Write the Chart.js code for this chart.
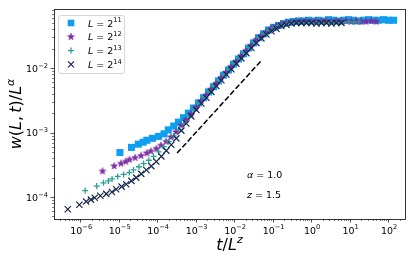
<!DOCTYPE html>
<html>
<head>
<meta charset="utf-8">
<script src="https://cdn.jsdelivr.net/npm/chart.js@4.4.0/dist/chart.umd.min.js"></script>
<style>
  html, body { margin: 0; padding: 0; background: #fff; }
  canvas { display: block; }
</style>
</head>
<body>
<canvas id="chart" width="415" height="262"></canvas>
<script>
// time steps sampled in every run (shared by all system sizes)
const times = [1, 2, 3, 4, 5, 7, 10, 14, 18, 25, 33, 45, 60, 81, 110, 148, 200, 269, 363, 490,
  661, 891, 1202, 1622, 2188, 2951, 3981, 5370, 7244, 9772, 13183, 17783, 23988, 32359, 43652,
  58884, 79433, 107152, 144544, 194984, 263027, 354813, 478630, 645654, 870964, 1174898,
  1584893, 2137962, 2884032, 3890451, 5248075, 7079458, 9549926, 12882496]

const sizeExps = [11, 12, 13, 14]
const zExp = 1.5

// w(L,t)/L^alpha, one list per system size
const w11 = [4.90e-4, 5.89e-4, 6.61e-4, 7.08e-4, 7.59e-4, 8.13e-4, 8.71e-4, 9.55e-4, 1.10e-3, 1.26e-3,
  1.45e-3, 1.70e-3, 2.00e-3, 2.40e-3, 2.88e-3, 3.47e-3, 4.27e-3, 5.13e-3, 6.31e-3, 7.76e-3,
  9.33e-3, 1.15e-2, 1.38e-2, 1.66e-2, 2.04e-2, 2.45e-2, 2.95e-2, 3.39e-2, 3.89e-2, 4.27e-2,
  4.57e-2, 4.90e-2, 5.13e-2, 5.25e-2, 5.37e-2, 5.37e-2, 5.50e-2, 5.37e-2, 5.50e-2, 5.37e-2,
  5.62e-2, 5.50e-2, 5.37e-2, 5.50e-2, 5.62e-2, 5.50e-2, 5.37e-2, 5.50e-2, 5.62e-2, 5.50e-2,
  5.50e-2, 5.62e-2, 5.50e-2, 5.50e-2]
const w12 = [2.51e-4, 3.02e-4, 3.31e-4, 3.55e-4, 3.80e-4, 4.07e-4, 4.37e-4, 4.79e-4, 5.13e-4, 5.62e-4,
  6.31e-4, 7.24e-4, 8.51e-4, 1.02e-3, 1.29e-3, 1.58e-3, 1.95e-3, 2.45e-3, 3.09e-3, 3.80e-3,
  4.68e-3, 5.75e-3, 7.08e-3, 8.51e-3, 1.05e-2, 1.26e-2, 1.55e-2, 1.86e-2, 2.24e-2, 2.75e-2,
  3.16e-2, 3.63e-2, 4.07e-2, 4.47e-2, 4.79e-2, 5.01e-2, 5.13e-2, 5.25e-2, 5.25e-2, 5.37e-2,
  5.25e-2, 5.37e-2, 5.25e-2, 5.37e-2, 5.25e-2, 5.37e-2, 5.25e-2, 5.37e-2, 5.25e-2, 5.37e-2,
  5.25e-2, 5.25e-2, 5.37e-2, 5.25e-2]
const w13 = [1.26e-4, 1.48e-4, 1.66e-4, 1.78e-4, 1.91e-4, 2.09e-4, 2.24e-4, 2.40e-4, 2.63e-4, 2.95e-4,
  3.31e-4, 3.72e-4, 4.27e-4, 5.01e-4, 6.03e-4, 7.24e-4, 8.91e-4, 1.12e-3, 1.38e-3, 1.74e-3,
  2.24e-3, 2.82e-3, 3.55e-3, 4.37e-3, 5.25e-3, 6.46e-3, 7.94e-3, 9.55e-3, 1.17e-2, 1.41e-2,
  1.70e-2, 2.09e-2, 2.51e-2, 2.95e-2, 3.39e-2, 3.80e-2, 4.17e-2, 4.57e-2, 4.79e-2, 5.01e-2,
  5.13e-2, 5.13e-2, 5.25e-2, 5.13e-2, 5.25e-2, 5.13e-2, 5.25e-2, 5.13e-2, 5.25e-2, 5.13e-2,
  5.13e-2, 5.25e-2, 5.13e-2, 5.25e-2]
const w14 = [6.46e-5, 7.59e-5, 8.51e-5, 9.12e-5, 9.77e-5, 1.05e-4, 1.12e-4, 1.20e-4, 1.32e-4, 1.45e-4,
  1.58e-4, 1.78e-4, 2.00e-4, 2.29e-4, 2.63e-4, 3.02e-4, 3.55e-4, 4.27e-4, 5.25e-4, 6.46e-4,
  8.13e-4, 1.07e-3, 1.38e-3, 1.78e-3, 2.24e-3, 2.82e-3, 3.47e-3, 4.27e-3, 5.25e-3, 6.46e-3,
  7.94e-3, 9.55e-3, 1.17e-2, 1.41e-2, 1.70e-2, 2.04e-2, 2.45e-2, 2.88e-2, 3.31e-2, 3.72e-2,
  4.07e-2, 4.47e-2, 4.68e-2, 4.90e-2, 5.01e-2, 5.01e-2, 5.01e-2, 5.01e-2, 4.90e-2, 5.01e-2,
  5.01e-2, 4.90e-2, 5.01e-2, 5.01e-2]

// guide line of slope alpha/z
const guideX = [3.3e-4, 5.0e-2]
const guideY = [4.8e-4, 1.29e-2]

const xMajors = [1e-6, 1e-5, 1e-4, 1e-3, 1e-2, 1e-1, 1e0, 1e1, 1e2]
const yMajors = [1e-4, 1e-3, 1e-2]

const FONT = '"DejaVu Sans", sans-serif'
const colors = ['#0f9ff0', '#7b2b9e', '#2b9f94', '#16254d']

// filled five point star like matplotlib '*'
const starImage = (color, r) => {
  const c = document.createElement('canvas')
  const s = Math.ceil(r * 2 + 2)
  c.width = s
  c.height = s
  const g = c.getContext('2d')
  g.fillStyle = color
  g.strokeStyle = color
  g.lineWidth = 0.6
  g.beginPath()
  for (let i = 0; i < 10; i++) {
    const rad = i % 2 ? r * 0.42 : r
    const a = -Math.PI / 2 + i * Math.PI / 5
    g.lineTo(s / 2 + rad * Math.cos(a), s / 2 + rad * Math.sin(a))
  }
  g.closePath()
  g.fill()
  g.stroke()
  return c
}
const star = starImage(colors[1], 3.6)

// draws a run of text pieces: [text, size, italic, rise]
const mathText = (ctx, parts, x, y, align) => {
  const fontOf = (p) => (p[2] ? 'italic ' : '') + p[1] + 'px ' + FONT
  const widths = parts.map((p) => { ctx.font = fontOf(p); return ctx.measureText(p[0]).width })
  const total = widths.reduce((a, b) => a + b, 0)
  let cx = align === 'center' ? x - total / 2 : align === 'right' ? x - total : x
  ctx.textAlign = 'left'
  ctx.textBaseline = 'alphabetic'
  parts.forEach((p, i) => {
    ctx.font = fontOf(p)
    ctx.fillText(p[0], cx, y - (p[3] || 0))
    cx += widths[i]
  })
}

const powerLabel = (v) => {
  const e = Math.round(Math.log10(v))
  return [['10', 9.5], [(e < 0 ? '\u2212' : '') + Math.abs(e), 6.7, false, 4.3]]
}

const minorValues = (min, max) => {
  const out = []
  for (let n = Math.floor(Math.log10(min)); n <= Math.ceil(Math.log10(max)); n++) {
    for (let k = 2; k <= 9; k++) {
      const v = k * Math.pow(10, n)
      if (v >= min && v <= max) out.push(v)
    }
  }
  return out
}

const drawMarker = (ctx, i, x, y) => {
  ctx.save()
  ctx.fillStyle = colors[i]
  ctx.strokeStyle = colors[i]
  if (i === 0) {
    ctx.fillRect(x - 3.3, y - 3.3, 6.6, 6.6)
  } else if (i === 1) {
    ctx.drawImage(star, x - star.width / 2, y - star.height / 2)
  } else if (i === 2) {
    ctx.lineWidth = 1.3
    ctx.beginPath()
    ctx.moveTo(x - 3, y); ctx.lineTo(x + 3, y)
    ctx.moveTo(x, y - 3); ctx.lineTo(x, y + 3)
    ctx.stroke()
  } else {
    ctx.lineWidth = 1.2
    ctx.beginPath()
    ctx.moveTo(x - 3, y - 3); ctx.lineTo(x + 3, y + 3)
    ctx.moveTo(x + 3, y - 3); ctx.lineTo(x - 3, y + 3)
    ctx.stroke()
  }
  ctx.restore()
}

// frame, log ticks, labels, legend and annotations in matplotlib style
const axesPlugin = {
  id: 'axesPlugin',
  afterDraw(chart) {
    const { ctx, chartArea: a, scales } = chart
    const xs = scales.x
    const ys = scales.y
    ctx.save()
    ctx.fillStyle = '#000'
    ctx.strokeStyle = '#222'

    // ticks
    const tick = (px, py, dx, dy, w) => {
      ctx.lineWidth = w
      ctx.beginPath()
      ctx.moveTo(px, py)
      ctx.lineTo(px + dx, py + dy)
      ctx.stroke()
    }
    minorValues(xs.min, xs.max).forEach((v) => tick(Math.round(xs.getPixelForValue(v)) + 0.5, a.bottom, 0, 2, 0.6))
    minorValues(ys.min, ys.max).forEach((v) => tick(a.left, Math.round(ys.getPixelForValue(v)) + 0.5, -2, 0, 0.6))
    xMajors.forEach((v) => {
      const px = xs.getPixelForValue(v)
      tick(Math.round(px) + 0.5, a.bottom, 0, 3.5, 0.8)
      mathText(ctx, powerLabel(v), px + 1, a.bottom + 14.5, 'center')
    })
    yMajors.forEach((v) => {
      const py = ys.getPixelForValue(v)
      tick(a.left, Math.round(py) + 0.5, -3.5, 0, 0.8)
      mathText(ctx, powerLabel(v), a.left - 6, py + 3.8, 'right')
    })

    // frame
    ctx.lineWidth = 0.9
    ctx.strokeRect(a.left + 0.5, a.top + 0.5, a.right - a.left, a.bottom - a.top)

    // axis titles
    mathText(ctx, [['t', 16, true], ['/', 16], ['L', 16, true], ['z', 11, true, 7]],
      (a.left + a.right) / 2, 250, 'center')
    ctx.save()
    ctx.translate(21, (a.top + a.bottom) / 2)
    ctx.rotate(-Math.PI / 2)
    mathText(ctx, [['w', 16, true], ['(', 16], ['L', 16, true], [',\u2009', 16], ['t', 16, true],
      [')/', 16], ['L', 16, true], ['\u03b1', 11, true, 7]], 0, 0, 'center')
    ctx.restore()

    // annotations
    mathText(ctx, [['\u03b1', 9.5, true], [' = 1.0', 9.5]], 247, 178, 'left')
    mathText(ctx, [['z', 9.5, true], [' = 1.5', 9.5]], 247, 198, 'left')

    // legend
    ctx.fillStyle = 'rgba(255,255,255,0.8)'
    ctx.strokeStyle = '#cccccc'
    ctx.lineWidth = 0.8
    ctx.beginPath()
    ctx.roundRect(58.5, 15.5, 66, 58, 2.5)
    ctx.fill()
    ctx.stroke()
    ctx.fillStyle = '#000'
    sizeExps.forEach((e, i) => {
      const y = 23 + i * 13.8
      drawMarker(ctx, i, 71, y)
      mathText(ctx, [['L', 9.5, true], [' = 2', 9.5], [String(e), 6.7, false, 4.3]], 88, y + 3.5, 'left')
    })
    ctx.restore()
  }
}

const points = (ys, e) => times.map((t, i) => ({ x: t / Math.pow(Math.pow(2, e), zExp), y: ys[i] }))
const wSeries = [w11, w12, w13, w14]
const markerStyles = [
  { pointStyle: 'rect', pointRadius: 5, borderWidth: 0 },
  { pointStyle: star, pointRadius: 4, borderWidth: 0 },
  { pointStyle: 'cross', pointRadius: 3, borderWidth: 1.3 },
  { pointStyle: 'crossRot', pointRadius: 4.4, borderWidth: 1.2 },
]

const datasets = sizeExps.map((e, i) => ({
  label: 'L = 2^' + e,
  data: points(wSeries[i], e),
  backgroundColor: colors[i],
  borderColor: colors[i],
  order: 4 - i,
  ...markerStyles[i],
}))
datasets.push({
  label: 'guide',
  data: guideX.map((x, i) => ({ x, y: guideY[i] })),
  showLine: true,
  borderColor: '#000',
  borderWidth: 1.5,
  borderDash: [5.5, 2.4],
  pointRadius: 0,
  order: 0,
})

new Chart(document.getElementById('chart').getContext('2d'), {
  type: 'scatter',
  data: { datasets },
  options: {
    responsive: false,
    animation: false,
    devicePixelRatio: 1,
    events: [],
    layout: { padding: { left: 54, top: 9, right: 10, bottom: 43 } },
    plugins: { legend: { display: false }, tooltip: { enabled: false } },
    scales: {
      x: { type: 'logarithmic', display: false, min: Math.pow(10, -6.68), max: Math.pow(10, 2.44) },
      y: { type: 'logarithmic', display: false, min: Math.pow(10, -4.34), max: Math.pow(10, -1.085) },
    },
  },
  plugins: [axesPlugin],
})
</script>
</body>
</html>
